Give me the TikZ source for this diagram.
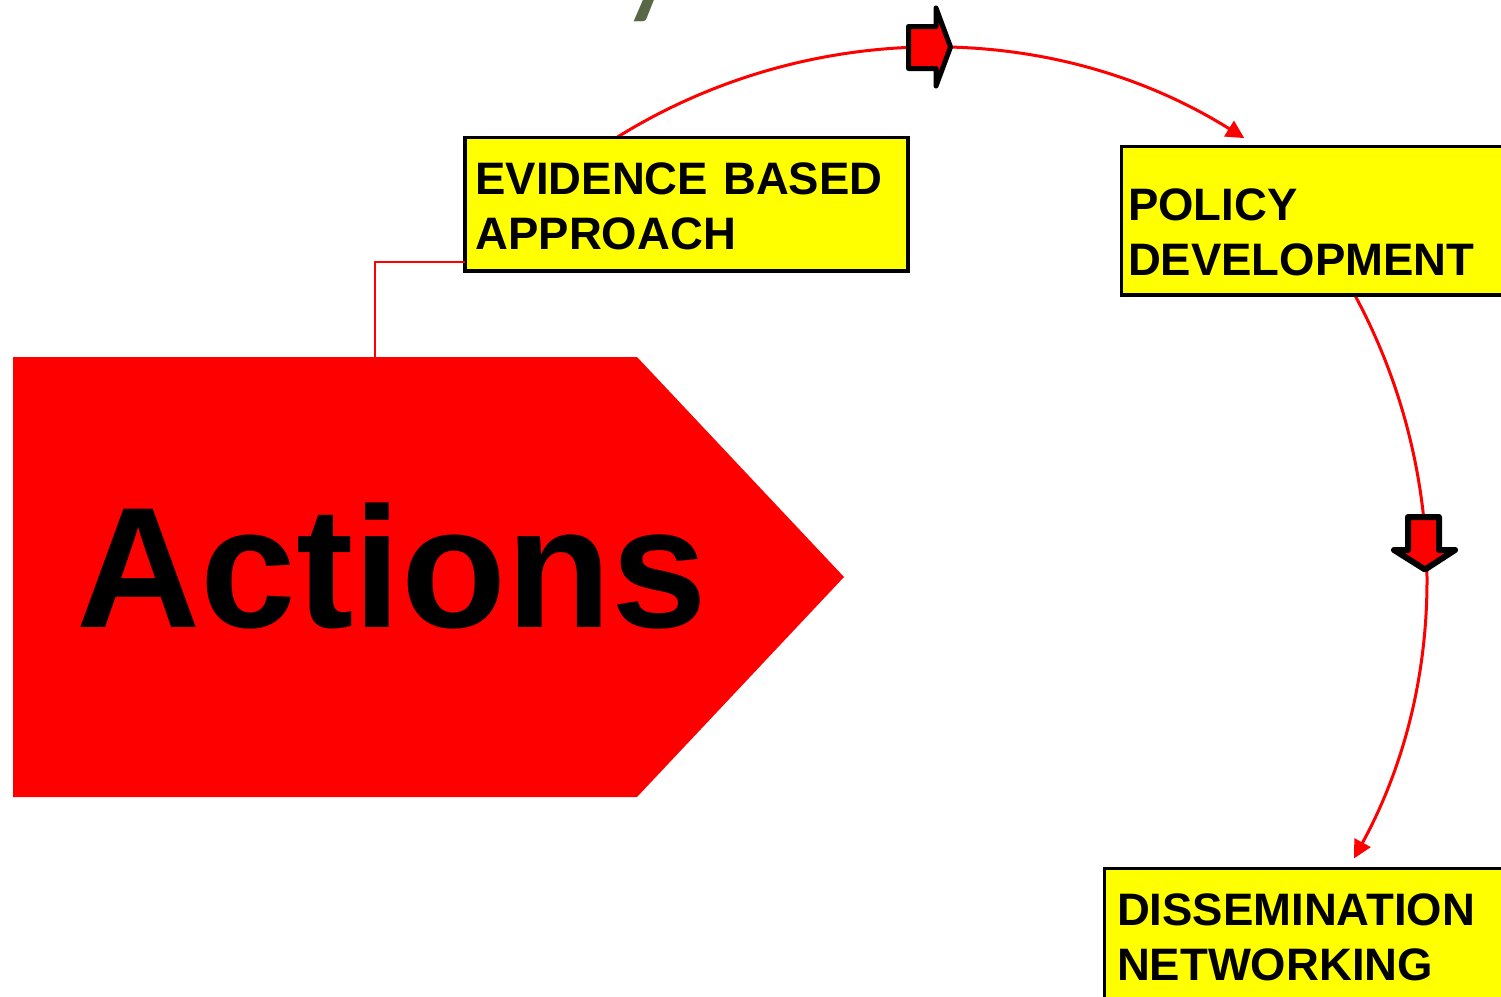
\documentclass[tikz,border=0pt]{standalone}
\usepackage{fontspec}
\setmainfont{Liberation Sans}
\newfontfamily\headfont{Carlito}
\usetikzlibrary{arrows.meta,calc}
\definecolor{headgreen}{RGB}{88,104,68}
\definecolor{boxyellow}{RGB}{255,255,0}
\definecolor{flowred}{RGB}{255,0,0}
\begin{document}
\begin{tikzpicture}[x=1pt,y=-1pt,
  flow/.style={draw=flowred, line width=3pt, -{Triangle[length=18pt,width=18pt]}},
  link/.style={draw=flowred, line width=2pt},
  stepbox/.style={draw=black, line width=3.5pt, fill=boxyellow, inner sep=0pt, outer sep=0pt, anchor=north west},
  steptext/.style={font=\fontsize{45.5}{55}\selectfont\bfseries, text width=520pt, align=left, inner sep=0pt, outer sep=0pt, anchor=base west},
  blockarrow/.style={draw=black, fill=flowred, line join=round}
]
\useasboundingbox (0,0) rectangle (1501,996);
\fill[white] (0,0) rectangle (1501,996);
\clip (0,0) rectangle (1501,996);

% heading, running off the top edge
\node[font=\headfont\fontsize{138}{140}\selectfont, text=headgreen, anchor=base west, inner sep=0pt] (head) at (344,-0.5) {Lobby Activities};

% large pointed "Actions" banner
\fill[flowred] (13,357) -- (637,357) -- (844,577) -- (637,797) -- (13,797) -- cycle;
\node[font=\fontsize{172}{180}\selectfont\bfseries, anchor=base west, inner sep=0pt] (act) at (76,627) {Actions};
\coordinate (acttop) at (375,357);

% circular flow between the steps
\coordinate (c1) at (930,641);
\coordinate (a1s) at ($(c1)+(-122:593)$);
\draw[flow] (a1s) arc[start angle=-122, end angle=-58, radius=593];
\coordinate (c2) at (836,576);
\coordinate (a2s) at ($(c2)+(-28.3:590)$);
\draw[flow] (a2s) arc[start angle=-28.3, end angle=28.6, radius=590];

% block arrows sitting on the flow
\draw[blockarrow, line width=5pt] (908.5,26.5) -- (936,26.5) -- (936,8) -- (950.5,47) -- (936,86) -- (936,68.5) -- (908.5,68.5) -- cycle;
\draw[blockarrow, line width=6pt] (1408,517) -- (1439,517) -- (1439,550) -- (1455,550) -- (1425,569.5) -- (1394,550) -- (1408,550) -- cycle;

% step boxes
\node[stepbox, minimum width=443pt, minimum height=133.5pt] (ev) at (465,137.5) {};
\node[steptext] (evt) at ($(ev.north west)+(10.5,57)$) {EVIDENCE BASED\\APPROACH};

\node[stepbox, minimum width=420pt, minimum height=148.5pt] (pol) at (1121.5,146.5) {};
\node[steptext] (polt) at ($(pol.north west)+(6.5,74)$) {POLICY\\DEVELOPMENT};

\node[stepbox, minimum width=440pt, minimum height=160pt] (dis) at (1104.5,868.5) {};
\node[steptext] (dist) at ($(dis.north west)+(12.5,57)$) {DISSEMINATION\\NETWORKING};

% link from the banner to the first step
\draw[link] (acttop) |- ($(ev.south west)+(0,-9)$);
\end{tikzpicture}
\end{document}
